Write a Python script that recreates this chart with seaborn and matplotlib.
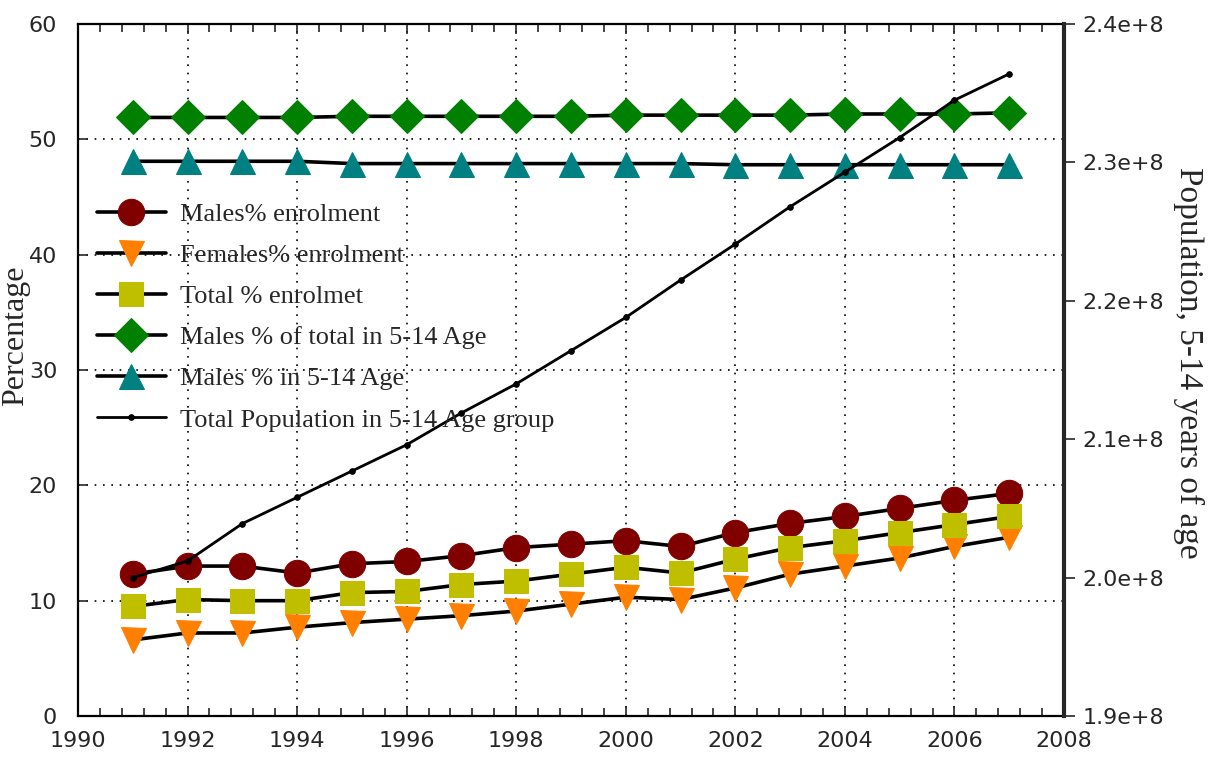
import numpy as np
import pandas as pd
import matplotlib
matplotlib.use("Agg")
import matplotlib.pyplot as plt
import matplotlib.ticker as mticker
import seaborn as sns

years = [1991, 1992, 1993, 1994, 1995, 1996, 1997, 1998, 1999,
         2000, 2001, 2002, 2003, 2004, 2005, 2006, 2007]

males_enrol = [12.3, 13.0, 13.0, 12.4, 13.2, 13.4, 13.9, 14.6, 14.9,
               15.2, 14.7, 15.9, 16.7, 17.3, 18.0, 18.7, 19.3]
females_enrol = [6.6, 7.2, 7.2, 7.7, 8.1, 8.4, 8.7, 9.1, 9.7,
                 10.3, 10.1, 11.1, 12.3, 13.0, 13.7, 14.7, 15.5]
total_enrol = [9.5, 10.1, 10.0, 10.0, 10.7, 10.8, 11.4, 11.7, 12.3,
               12.9, 12.4, 13.6, 14.6, 15.2, 15.9, 16.6, 17.3]
males_of_total = [51.9, 51.9, 51.9, 51.9, 52.0, 52.0, 52.0, 52.0, 52.0,
                  52.1, 52.1, 52.1, 52.1, 52.2, 52.2, 52.2, 52.3]
males_in_age = [48.1, 48.1, 48.1, 48.1, 47.9, 47.9, 47.9, 47.9, 47.9,
                47.9, 47.9, 47.8, 47.8, 47.8, 47.8, 47.8, 47.8]
population = [2.000e8, 2.012e8, 2.039e8, 2.058e8, 2.077e8, 2.096e8, 2.119e8,
              2.140e8, 2.164e8, 2.188e8, 2.215e8, 2.241e8, 2.268e8, 2.293e8,
              2.318e8, 2.345e8, 2.364e8]

labels = ["Males% enrolment", "Females% enrolment", "Total % enrolmet",
          "Males % of total in 5-14 Age", "Males % in 5-14 Age",
          "Total Population in 5-14 Age group"]

sns.set_style("white")
plt.rcParams["font.family"] = ["DejaVu Sans"]

fig = plt.figure(figsize=(12.28, 7.58), dpi=100)
ax = fig.add_axes([0.0635, 0.0554, 0.8030, 0.9129])

df = pd.DataFrame({"year": years, "m": males_enrol, "f": females_enrol,
                   "t": total_enrol, "mt": males_of_total, "ma": males_in_age,
                   "pop": population})

specs = [("m", "o", "#800000", 19),
         ("f", "v", "#FF8000", 18),
         ("t", "s", "#BFBF00", 17),
         ("mt", "D", "#008000", 17),
         ("ma", "^", "#008080", 18)]
for (col, mk, colr, ms), lab in zip(specs, labels[:5]):
    sns.lineplot(data=df, x="year", y=col, ax=ax, color="black", linewidth=2.6,
                 marker=mk, markersize=ms, markerfacecolor=colr,
                 markeredgecolor=colr, label=lab, legend=False)

ax.set_xlim(1990, 2008)
ax.set_ylim(0, 60)
ax.xaxis.set_major_locator(mticker.MultipleLocator(2))
ax.xaxis.set_minor_locator(mticker.MultipleLocator(0.4))
ax.yaxis.set_major_locator(mticker.MultipleLocator(10))
ax.grid(True, which="major", color="black", linestyle=(0, (1, 4)), linewidth=1.2)
ax.tick_params(axis="x", which="both", direction="in", top=True, bottom=True,
               labelsize=16, pad=11)
ax.tick_params(axis="x", which="major", length=7, width=1.2)
ax.tick_params(axis="x", which="minor", length=6, width=1.2)
ax.tick_params(axis="y", which="major", direction="in", left=True, right=True,
               length=7, width=1.2, labelsize=16, pad=15)
for s in ax.spines.values():
    s.set_linewidth(1.6)
    s.set_color("black")
ax.set_xlabel("")
ax.set_ylabel("Percentage", family="Liberation Serif", fontsize=23)
ax.yaxis.set_label_coords(-0.049, 0.55)

ax2 = ax.twinx()
sns.lineplot(data=df, x="year", y="pop", ax=ax2, color="black", linewidth=2,
             marker="o", markersize=4, markerfacecolor="black",
             markeredgecolor="black", label=labels[5], legend=False)
ax2.set_ylim(1.9e8, 2.4e8)
ax2.yaxis.set_major_locator(mticker.MultipleLocator(0.1e8))
ax2.yaxis.set_major_formatter(mticker.FuncFormatter(lambda v, p: f"{v/1e8:.1f}e+8"))
ax2.tick_params(axis="y", direction="out", length=8, width=1.2, labelsize=16, pad=5)
ax2.spines["right"].set_linewidth(3)
for k in ["left", "top", "bottom"]:
    ax2.spines[k].set_visible(False)
ax2.set_ylabel("Population, 5-14 years of age", family="Liberation Serif",
               fontsize=24, rotation=270)
ax2.yaxis.set_label_coords(1.142, 0.51)
ax2.set_xlabel("")
ax2.grid(False)

h1, l1 = ax.get_legend_handles_labels()
h2, l2 = ax2.get_legend_handles_labels()
leg = ax2.legend(h1 + h2, l1 + l2, loc="upper left", bbox_to_anchor=(0.079, 0.733),
                 bbox_transform=fig.transFigure, frameon=False,
                 prop={"family": "Liberation Serif", "size": 19},
                 handlelength=2.6, handletextpad=0.55, labelspacing=0.67,
                 borderpad=0, borderaxespad=0)

fig.savefig("out.png", dpi=100)
